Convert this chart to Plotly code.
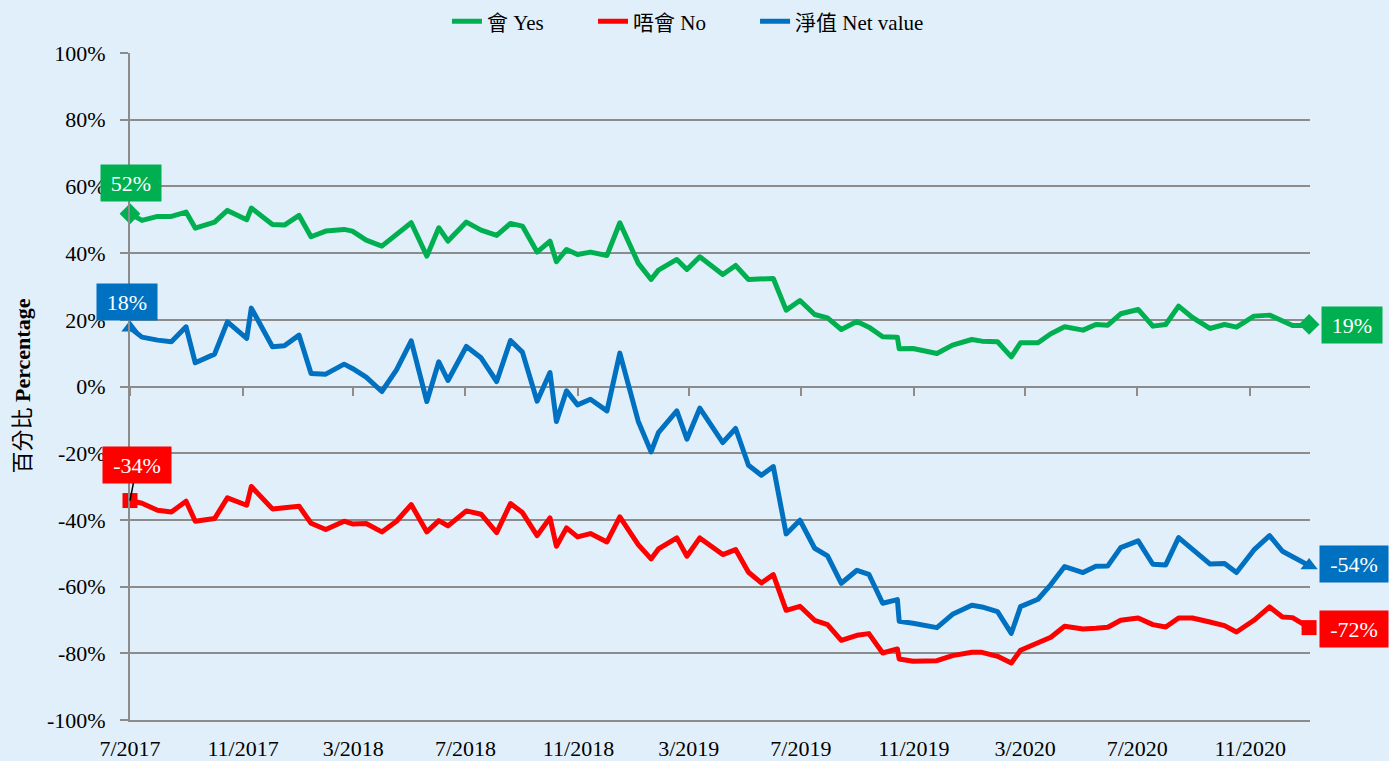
import plotly.graph_objects as go

# ---------------- data ----------------
dates = [
    "2017-07-01", "2017-07-14", "2017-07-31", "2017-08-15", "2017-08-31", "2017-09-10", "2017-10-01", "2017-10-15", "2017-11-05", "2017-11-10",
    "2017-12-03", "2017-12-16", "2018-01-01", "2018-01-14", "2018-01-30", "2018-02-19", "2018-02-28", "2018-03-15", "2018-04-01", "2018-04-17",
    "2018-05-03", "2018-05-20", "2018-06-02", "2018-06-12", "2018-07-02", "2018-07-18", "2018-08-04", "2018-08-19", "2018-09-01", "2018-09-17",
    "2018-10-01", "2018-10-08", "2018-10-19", "2018-10-31", "2018-11-14", "2018-12-02", "2018-12-16", "2019-01-05", "2019-01-19", "2019-01-27",
    "2019-02-16", "2019-02-27", "2019-03-13", "2019-04-07", "2019-04-21", "2019-05-05", "2019-05-19", "2019-06-01", "2019-06-15", "2019-06-30",
    "2019-07-16", "2019-07-30", "2019-08-14", "2019-08-31", "2019-09-13", "2019-09-28", "2019-10-14", "2019-10-16", "2019-10-31", "2019-11-26",
    "2019-12-13", "2020-01-03", "2020-01-14", "2020-01-31", "2020-02-15", "2020-02-25", "2020-03-15", "2020-03-29", "2020-04-13", "2020-05-03",
    "2020-05-17", "2020-05-30", "2020-06-13", "2020-07-02", "2020-07-18", "2020-08-01", "2020-08-15", "2020-08-30", "2020-09-18", "2020-10-04",
    "2020-10-17", "2020-11-05", "2020-11-22", "2020-12-06", "2020-12-17", "2020-12-27", "2021-01-04",
]

yes_pct = [
    51.8, 49.8, 51.0, 51.0, 52.3, 47.5, 49.3, 52.8, 50.0, 53.5,
    48.6, 48.4, 51.3, 44.9, 46.6, 47.1, 46.6, 43.9, 42.1, 45.4,
    49.1, 39.1, 47.6, 43.6, 49.3, 46.9, 45.3, 48.9, 48.1, 40.3,
    43.6, 37.4, 41.1, 39.6, 40.3, 39.3, 49.1, 37.0, 32.1, 34.9,
    38.1, 35.1, 38.9, 33.6, 36.3, 32.1, 32.3, 32.4, 22.9, 25.8,
    21.6, 20.6, 17.1, 19.5, 17.8, 14.9, 14.8, 11.3, 11.4, 9.9,
    12.4, 14.1, 13.6, 13.4, 8.9, 13.1, 13.1, 15.8, 17.9, 16.9,
    18.6, 18.4, 21.8, 23.1, 18.1, 18.6, 24.1, 20.7, 17.4, 18.6,
    17.8, 21.1, 21.4, 19.7, 18.3, 18.3, 18.6,
]

no_pct = [
    -34.2, -35.0, -37.1, -37.6, -34.4, -40.4, -39.6, -33.4, -35.6, -30.0,
    -36.7, -36.2, -35.9, -41.0, -42.9, -40.4, -41.2, -41.1, -43.6, -40.4,
    -35.4, -43.6, -40.2, -41.8, -37.3, -38.3, -43.8, -35.1, -37.8, -44.7,
    -39.4, -47.9, -42.4, -45.1, -44.1, -46.6, -39.1, -47.4, -51.7, -48.7,
    -45.4, -50.9, -45.4, -50.4, -48.9, -55.7, -58.9, -56.4, -67.1, -65.9,
    -70.1, -71.4, -76.1, -74.6, -74.1, -79.9, -78.7, -81.7, -82.4, -82.2,
    -80.7, -79.7, -79.7, -80.9, -82.9, -79.1, -76.9, -75.2, -71.9, -72.7,
    -72.5, -72.2, -70.1, -69.4, -71.4, -72.1, -69.4, -69.4, -70.6, -71.7,
    -73.6, -70.1, -66.1, -69.1, -69.3, -71.1, -72.3,
]

net_pct = [
    17.6, 14.8, 13.9, 13.4, 17.9, 7.1, 9.7, 19.4, 14.4, 23.5,
    11.9, 12.2, 15.4, 3.9, 3.7, 6.7, 5.4, 2.8, -1.5, 5.0,
    13.7, -4.5, 7.4, 1.8, 12.0, 8.6, 1.5, 13.8, 10.3, -4.4,
    4.2, -10.5, -1.3, -5.5, -3.8, -7.3, 10.0, -10.4, -19.6, -13.8,
    -7.3, -15.8, -6.5, -16.8, -12.6, -23.6, -26.6, -24.0, -44.2, -40.1,
    -48.5, -50.8, -59.0, -55.1, -56.3, -65.0, -63.9, -70.4, -71.0, -72.3,
    -68.3, -65.6, -66.1, -67.5, -74.0, -66.0, -63.8, -59.4, -54.0, -55.8,
    -53.9, -53.8, -48.3, -46.3, -53.3, -53.5, -45.3, -48.7, -53.2, -53.1,
    -55.8, -49.0, -44.7, -49.4, -51.0, -52.8, -53.7,
]

series_names = ["會 Yes", "唔會 No", "淨值 Net value"]

x_tick_vals = ["2017-07-01", "2017-11-01", "2018-03-01", "2018-07-01", "2018-11-01", "2019-03-01",
               "2019-07-01", "2019-11-01", "2020-03-01", "2020-07-01", "2020-11-01"]
x_tick_text = ["7/2017", "11/2017", "3/2018", "7/2018", "11/2018", "3/2019",
               "7/2019", "11/2019", "3/2020", "7/2020", "11/2020"]
y_tick_vals = [100, 80, 60, 40, 20, 0, -20, -40, -60, -80, -100]
y_tick_text = ["100%", "80%", "60%", "40%", "20%", "0%", "-20%", "-40%", "-60%", "-80%", "-100%"]

# ---------------- style ----------------
GREEN = "#00B050"
RED = "#FF0000"
BLUE = "#0070C0"
BG = "#E1EFFA"
GRID = "#8C8C8C"
FONT = "Liberation Serif, 'Noto Sans CJK TC', serif"

fig = go.Figure()

series = [
    (series_names[0], yes_pct, GREEN, "diamond", 16, "legend"),
    (series_names[1], no_pct, RED, "square", 15, "legend2"),
    (series_names[2], net_pct, BLUE, "triangle-up", 15, "legend3"),
]

for name, vals, col, sym, msize, lg in series:
    fig.add_trace(go.Scatter(
        x=dates, y=vals, name=name, mode="lines", legend=lg,
        line=dict(color=col, width=5),
        hoverinfo="x+y",
    ))

for name, vals, col, sym, msize, lg in series:
    fig.add_trace(go.Scatter(
        x=[dates[0], dates[-1]], y=[vals[0], vals[-1]], mode="markers",
        marker=dict(symbol=sym, size=msize, color=col),
        showlegend=False, cliponaxis=False, hoverinfo="skip",
    ))

# helper trace for the tick marks drawn on the 0% line
fig.add_trace(go.Scatter(x=[dates[0]], y=[None], xaxis="x2", yaxis="y",
                         showlegend=False, hoverinfo="skip", mode="lines"))


def pct(v):
    return f"{round(v):d}%"


def box_w(txt):
    return 50 if len(txt) <= 3 else 58


annos = []
start_specs = [
    (yes_pct, GREEN, 1, -31, False),
    (net_pct, BLUE, -3, -26, False),
    (no_pct, RED, 7, -36, True),
]
for vals, col, ax, ay, leader in start_specs:
    t = pct(vals[0])
    annos.append(dict(
        x=dates[0], y=vals[0], xref="x", yref="y", text=t,
        showarrow=True, ax=ax, ay=ay, arrowhead=0, arrowwidth=1.5,
        arrowcolor="black" if leader else "rgba(0,0,0,0)",
        bgcolor=col, borderpad=5, width=box_w(t), height=26,
        font=dict(family=FONT, size=22, color="white"),
    ))
end_specs = [
    (yes_pct, GREEN, 43, 1),
    (net_pct, BLUE, 45, -2),
    (no_pct, RED, 45, 1),
]
for vals, col, ax, ay in end_specs:
    t = pct(vals[-1])
    annos.append(dict(
        x=dates[-1], y=vals[-1], xref="x", yref="y", text=t,
        showarrow=True, ax=ax, ay=ay, arrowhead=0, arrowwidth=1,
        arrowcolor="rgba(0,0,0,0)",
        bgcolor=col, borderpad=5, width=box_w(t), height=26,
        font=dict(family=FONT, size=22, color="white"),
    ))

annos.append(dict(
    xref="paper", yref="paper", x=-0.0915, y=0.5, xanchor="center", yanchor="middle",
    textangle=-90, text="百分比 <b>Percentage</b>", showarrow=False,
    font=dict(family=FONT, size=22, color="black"),
))


def legend_at(xfrac):
    return dict(orientation="h", x=xfrac, xanchor="left", y=1.047, yanchor="middle",
                font=dict(family=FONT, size=21, color="black"),
                bgcolor="rgba(0,0,0,0)")


fig.update_layout(
    width=1389, height=761,
    margin=dict(l=130, r=79, t=53, b=41, autoexpand=False),
    paper_bgcolor=BG, plot_bgcolor=BG,
    font=dict(family=FONT, size=22, color="black"),
    showlegend=True,
    legend=legend_at(0.2686),
    legend2=legend_at(0.3924),
    legend3=legend_at(0.5297),
    xaxis=dict(
        type="date", range=["2017-07-01", "2021-01-05"],
        tickmode="array", tickvals=x_tick_vals, ticktext=x_tick_text,
        ticks="", showgrid=False, zeroline=False,
        showline=True, linecolor=GRID, linewidth=2,
        ticklabelstandoff=8,
        tickfont=dict(family=FONT, size=22, color="black"),
    ),
    xaxis2=dict(
        type="date", overlaying="x", matches="x", anchor="free", position=0.5, side="bottom",
        tickmode="array", tickvals=x_tick_vals, ticks="outside", ticklen=8, tickwidth=2,
        tickcolor=GRID, showticklabels=False, showgrid=False, showline=False, zeroline=False,
    ),
    yaxis=dict(
        range=[-100, 100], tickmode="array", tickvals=y_tick_vals, ticktext=y_tick_text,
        ticks="outside", ticklen=8, tickwidth=2, tickcolor=GRID,
        showgrid=True, gridcolor=GRID, gridwidth=2, zeroline=False,
        showline=True, linecolor=GRID, linewidth=2,
        ticklabelstandoff=10,
        tickfont=dict(family=FONT, size=22, color="black"),
    ),
    annotations=annos,
    hovermode="closest",
)

fig.write_html(
    "out.html",
    config={"displayModeBar": False},
    post_script="document.body.style.margin='0';"
                "document.querySelectorAll('.js-line').forEach(function(p){p.style.strokeLinejoin='round';});",
)
